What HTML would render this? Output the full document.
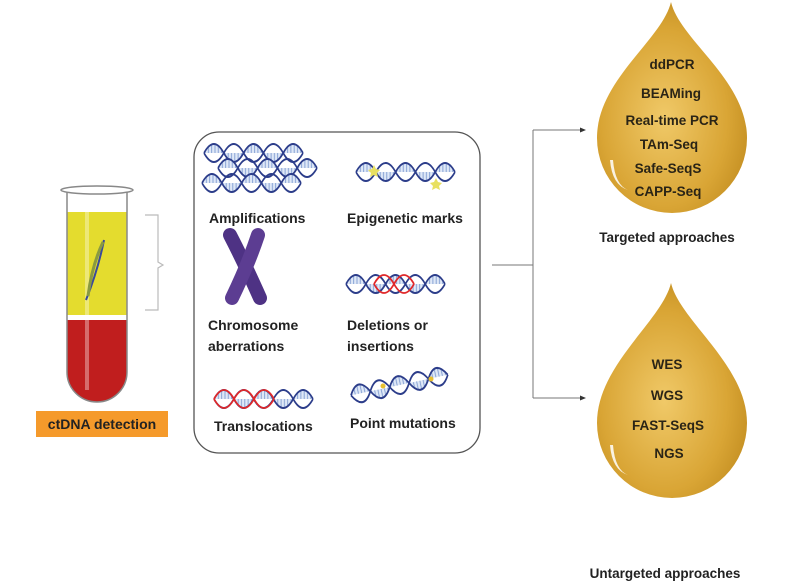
<!DOCTYPE html>
<html><head><meta charset="utf-8"><style>
html,body{margin:0;padding:0;background:#fff;}
svg{display:block;font-family:"Liberation Sans",sans-serif;font-weight:bold;}
</style></head><body>
<svg width="799" height="584" viewBox="0 0 799 584" xmlns="http://www.w3.org/2000/svg">
<defs>
<radialGradient id="gold" cx="0.45" cy="0.55" r="0.6">
<stop offset="0" stop-color="#f0c968"/><stop offset="0.7" stop-color="#d9a535"/><stop offset="1" stop-color="#c48f22"/>
</radialGradient>
<pattern id="hatch" width="3" height="10" patternUnits="userSpaceOnUse"><rect width="3" height="10" fill="#dfe8f7"/><line x1="1" y1="0" x2="1" y2="10" stroke="#7d9ad0" stroke-width="0.8"/></pattern>
<g id="h0">
<path d="M0,6 Q9,-6 18,6 Q27,18 36,6 Q45,-6 54,6 Q63,18 72,6 Q81,-6 90,6" fill="url(#hatch)" stroke="none"/>
<path d="M0,6 Q9,-6 18,6 Q27,18 36,6 Q45,-6 54,6 Q63,18 72,6 Q81,-6 90,6" fill="none" stroke="#2c3d8a" stroke-width="1.4"/>
<path d="M0,6 Q9,18 18,6 Q27,-6 36,6 Q45,18 54,6 Q63,-6 72,6 Q81,18 90,6" fill="none" stroke="#2c3d8a" stroke-width="1.4"/>
</g>
<g id="helix"><use href="#h0" transform="translate(0,-3) scale(1.1,1.5)"/></g>
</defs>
<!-- Tube -->
<rect x="67" y="212" width="60" height="105" fill="#e4dc2e"/>
<path d="M67,320 H127 V372 A30,30 0 0 1 67,372 Z" fill="#c01e1e"/>
<rect x="67" y="315" width="60" height="5" fill="#fff"/>
<path d="M67,192 V372 A30,30 0 0 0 127,372 V192" fill="none" stroke="#888" stroke-width="1.5"/>
<ellipse cx="97" cy="190" rx="36" ry="4" fill="#fff" stroke="#888" stroke-width="1.5"/>
<rect x="85" y="200" width="4" height="190" fill="#fff" opacity="0.35"/>
<path d="M86,300 Q98,270 104,240" stroke="#3a4a9a" stroke-width="2" fill="none"/>
<path d="M88,296 Q92,265 103,242" stroke="#8a9a40" stroke-width="3" fill="none"/>
<path d="M145,215 H158 V262 L163,265 L158,268 V310 H145" fill="none" stroke="#bbb" stroke-width="1.2"/>
<rect x="36" y="411" width="132" height="26" fill="#f59a2b"/>
<text x="102" y="429" font-size="14" text-anchor="middle" fill="#222">ctDNA detection</text>
<!-- box -->
<rect x="194" y="132" width="286" height="321" rx="25" fill="#fff" stroke="#555" stroke-width="1.3"/>
<use href="#helix" x="204" y="147"/>
<use href="#helix" x="218" y="162"/>
<use href="#helix" x="202" y="177"/>
<use href="#helix" x="356" y="166"/>
<polygon points="374,165 376,169 380,170 377,173 378,177 374,175 370,177 371,173 368,170 372,169" fill="#e8e060"/>
<polygon points="436,178 438,182 442,183 439,186 440,190 436,188 432,190 433,186 430,183 434,182" fill="#e8e060"/>
<text x="209" y="223" font-size="14" fill="#222">Amplifications</text>
<text x="347" y="223" font-size="14" fill="#222">Epigenetic marks</text>
<g transform="translate(248,270)">
<path d="M-18,-35 Q-5,-10 12,28" stroke="#4e3284" stroke-width="14" stroke-linecap="round" fill="none"/>
<path d="M10,-35 Q0,-5 -16,28" stroke="#5c3d92" stroke-width="14" stroke-linecap="round" fill="none"/>
</g>
<use href="#helix" x="346" y="278"/>
<path d="M374,284 Q384,266 394,284 Q404,302 414,284" stroke="#e0282a" stroke-width="1.8" fill="none"/>
<path d="M374,284 Q384,302 394,284 Q404,266 414,284" stroke="#e0282a" stroke-width="1.8" fill="none"/>
<text x="208" y="330" font-size="14" fill="#222">Chromosome</text>
<text x="208" y="351" font-size="14" fill="#222">aberrations</text>
<text x="347" y="330" font-size="14" fill="#222">Deletions or</text>
<text x="347" y="351" font-size="14" fill="#222">insertions</text>
<use href="#helix" x="214" y="393"/>
<path d="M214,399 Q224,381 234,399 Q244,417 254,399 Q264,381 274,399" stroke="#e0282a" stroke-width="1.8" fill="none"/>
<path d="M214,399 Q224,417 234,399 Q244,381 254,399 Q264,417 274,399" stroke="#e0282a" stroke-width="1.8" fill="none"/>
<use href="#helix" x="350" y="380" transform="rotate(-12 395 386)"/>
<circle cx="383" cy="386" r="2.5" fill="#e8c030"/>
<circle cx="431" cy="379" r="2.5" fill="#e8c030"/>
<text x="214" y="431" font-size="14" fill="#222">Translocations</text>
<text x="350" y="428" font-size="14" fill="#222">Point mutations</text>
<!-- connectors -->
<path d="M492,265 H533 M533,130 V398 M533,130 H582 M533,398 H582" stroke="#777" stroke-width="1" fill="none"/>
<polygon points="586,130 580,127.5 580,132.5" fill="#333"/>
<polygon points="586,398 580,395.5 580,400.5" fill="#333"/>
<!-- drops -->
<path d="M671,2 C680,40 747,80 747,138 A75,75 0 0 1 597,138 C597,80 662,40 671,2 Z" fill="url(#gold)"/>
<path d="M610,160 Q612,185 628,190 Q615,185 613,160 Z" fill="#fff" opacity="0.85"/>
<path d="M671,283 C680,321 747,365 747,423 A75,75 0 0 1 597,423 C597,365 662,321 671,283 Z" fill="url(#gold)"/>
<path d="M610,445 Q612,470 628,475 Q615,470 613,445 Z" fill="#fff" opacity="0.85"/>
<g font-size="13.5" fill="#2a2416" text-anchor="middle">
<text x="672" y="69">ddPCR</text>
<text x="671" y="98">BEAMing</text>
<text x="672" y="125">Real-time PCR</text>
<text x="669" y="149">TAm-Seq</text>
<text x="668" y="173">Safe-SeqS</text>
<text x="668" y="196">CAPP-Seq</text>
<text x="667" y="369">WES</text>
<text x="667" y="400">WGS</text>
<text x="668" y="430">FAST-SeqS</text>
<text x="669" y="458">NGS</text>
</g>
<text x="667" y="242" font-size="13.5" fill="#222" text-anchor="middle">Targeted approaches</text>
<text x="665" y="578" font-size="13.5" fill="#222" text-anchor="middle">Untargeted approaches</text>
</svg>
</body></html>
